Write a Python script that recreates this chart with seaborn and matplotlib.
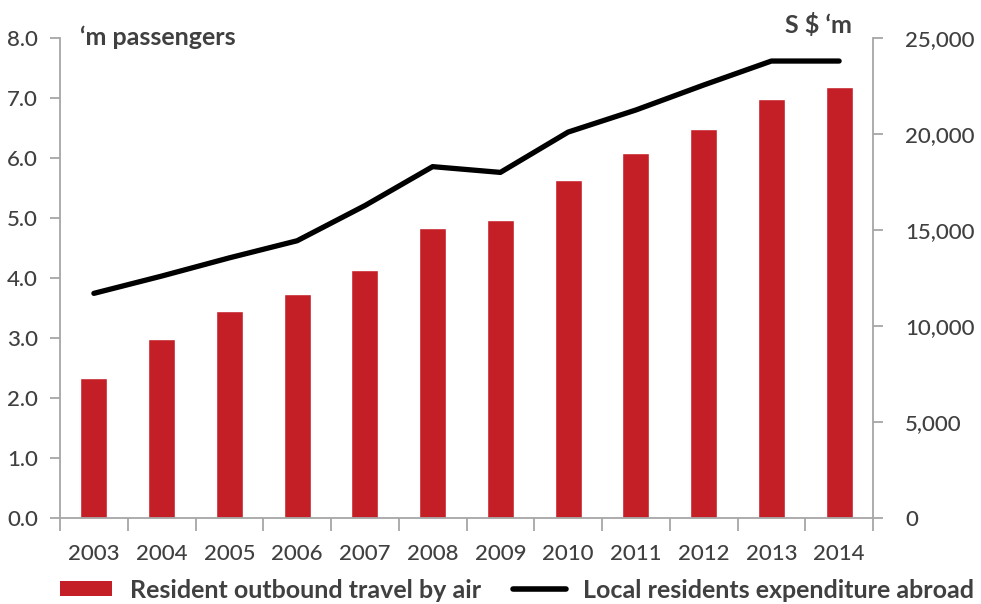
import numpy as np
import pandas as pd
import matplotlib
matplotlib.use("Agg")
import matplotlib.pyplot as plt
import seaborn as sns
from matplotlib.patches import Patch
from matplotlib.lines import Line2D

years = ["2003", "2004", "2005", "2006", "2007", "2008", "2009", "2010", "2011", "2012", "2013", "2014"]
passengers_m = [2.33, 2.99, 3.45, 3.73, 4.14, 4.84, 4.97, 5.63, 6.08, 6.49, 6.98, 7.19]
expenditure_sgd_m = [11700, 12600, 13550, 14440, 16270, 18300, 18000, 20100, 21250, 22550, 23800, 23800]
left_ticks = [0, 1, 2, 3, 4, 5, 6, 7, 8]
right_ticks = [0, 5000, 10000, 15000, 20000, 25000]

sns.set_theme(style="white")
plt.rcParams["font.family"] = ["Lato", "DejaVu Sans"]

RED = "#C41F27"
TXT = "#404040"
SPINE = "#A6A6A6"

df = pd.DataFrame({"year": years, "pax": passengers_m, "exp": expenditure_sgd_m})
df["pos"] = np.arange(len(years))

fig = plt.figure(figsize=(9.81, 6.04), dpi=100)
ax = fig.add_axes([60 / 981, 1 - 518 / 604, (873 - 60) / 981, (518 - 38) / 604])

sns.barplot(data=df, x="year", y="pax", color=RED, width=0.4, ax=ax, saturation=1)
ax.set_xlim(-0.5, len(years) - 0.5)
ax.set_ylim(0, 8)
ax.set_yticks(left_ticks)
ax.set_yticklabels([f"{v:.1f}" for v in left_ticks])
ax.set_xlabel("")
ax.set_ylabel("")

ax2 = ax.twinx()
sns.lineplot(data=df, x="pos", y="exp", color="black", linewidth=3.8, ax=ax2,
             solid_capstyle="round", solid_joinstyle="round")
ax2.set_ylim(0, 25000)
ax2.set_yticks(right_ticks)
ax2.set_yticklabels([f"{v:,}" for v in right_ticks])
ax2.set_xlim(-0.5, len(years) - 0.5)
ax2.set_xlabel("")
ax2.set_ylabel("")

for a in (ax, ax2):
    a.spines["top"].set_visible(False)
    for s in ("left", "right", "bottom"):
        a.spines[s].set_color(SPINE)
        a.spines[s].set_linewidth(1.3)

ax.spines["right"].set_visible(False)
ax2.spines["left"].set_visible(False)
ax2.spines["bottom"].set_visible(False)

ax.set_xticks(np.arange(len(years)))
ax.set_xticklabels(years)
ax.set_xticks(np.arange(-0.5, len(years), 1), minor=True)
ax.tick_params(axis="x", which="major", length=0, pad=19, labelsize=16, labelcolor=TXT)
ax.tick_params(axis="x", which="minor", length=9, width=1.3, color=SPINE, direction="out", bottom=True)
ax.tick_params(axis="y", length=7, width=1.3, color=SPINE, direction="out", left=True,
               pad=9, labelsize=16, labelcolor=TXT)
ax2.tick_params(axis="y", length=7, width=1.3, color=SPINE, direction="out", right=True,
                pad=16, labelsize=16, labelcolor=TXT)
for lbl in ax.get_xticklabels() + ax.get_yticklabels() + ax2.get_yticklabels():
    lbl.set_fontweight(500)

fig.text(80 / 981, 1 - 37 / 604, "\u2018m passengers", fontsize=18, fontweight="bold",
         color=TXT, va="center", ha="left")
fig.text(852 / 981, 1 - 25 / 604, "S $ \u2018m", fontsize=18, fontweight="bold",
         color=TXT, va="center", ha="right")

handles = [Patch(facecolor=RED, edgecolor="none"), Line2D([0], [0], color="black", lw=4)]
labels = ["Resident outbound travel by air", "Local residents expenditure abroad"]
leg = fig.legend(handles, labels, loc="center", bbox_to_anchor=(517 / 981, 1 - 590 / 604), ncol=2,
                 frameon=False, fontsize=18, handlelength=2.1, handleheight=0.55,
                 handletextpad=0.7, columnspacing=1.3, borderaxespad=0)
for t in leg.get_texts():
    t.set_color(TXT)
    t.set_fontweight("bold")

fig.savefig("out.png", dpi=100)
